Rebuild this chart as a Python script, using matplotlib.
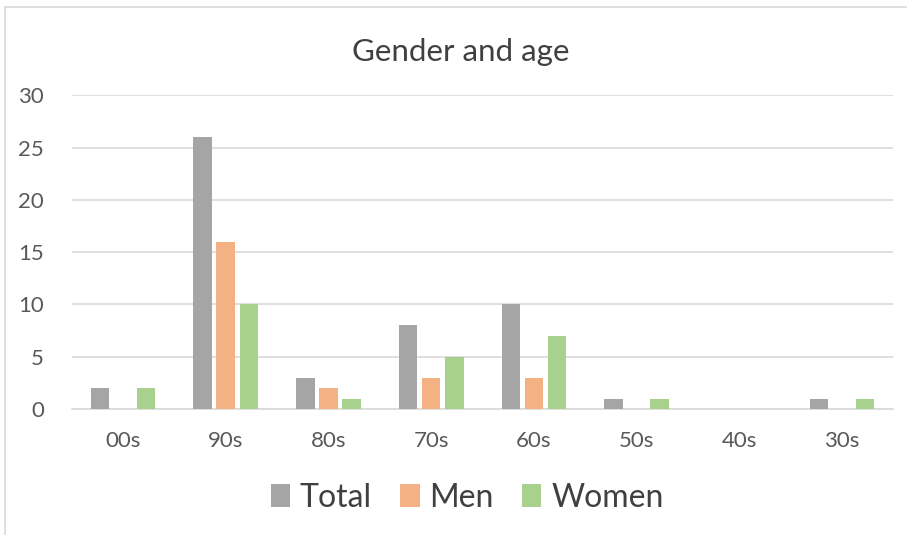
import matplotlib.pyplot as plt
import numpy as np
from matplotlib.lines import Line2D

categorias = ["00s", "90s", "80s", "70s", "60s", "50s", "40s", "30s"]
total = [2, 26, 3, 8, 10, 1, 0, 1]
hombres = [0, 16, 2, 3, 3, 0, 0, 0]
mujeres = [2, 10, 1, 5, 7, 1, 0, 1]

plt.rcParams['font.family'] = ['Lato', 'DejaVu Sans']

fig = plt.figure(figsize=(9.07, 5.35), dpi=100)
ax = fig.add_axes([0.079, 0.2355, 0.906, 0.5865])

x = np.arange(len(categorias))
ancho = 0.18
sep = 0.225
ax.bar(x - sep, total, ancho, color='#a5a5a5', label='Total', zorder=3)
ax.bar(x, hombres, ancho, color='#f4b183', label='Men', zorder=3)
ax.bar(x + sep, mujeres, ancho, color='#a9d18e', label='Women', zorder=3)

ax.set_xlim(-0.5, len(categorias) - 0.5)
ax.set_ylim(0, 30)
ax.set_yticks(range(0, 31, 5))
ax.set_xticks(x)
ax.set_xticklabels(categorias)
ax.yaxis.grid(True, color='#d9d9d9', linewidth=1.2, zorder=0)
for s in ['top', 'right', 'left']:
    ax.spines[s].set_visible(False)
ax.spines['bottom'].set_color('#d9d9d9')
ax.spines['bottom'].set_linewidth(1.2)
ax.tick_params(length=0, labelsize=16, colors='#595959', pad=16)
ax.tick_params(axis='y', pad=20)

ax.set_title('Gender and age', fontsize=22.5, color='#404040', pad=25, x=0.474)

leg = fig.legend(loc='center', bbox_to_anchor=(0.515, 0.07), ncol=3, frameon=False,
                 fontsize=23, handlelength=0.6, handleheight=0.7, handletextpad=0.3,
                 columnspacing=0.9)
for t in leg.get_texts():
    t.set_color('#404040')

# marco del gráfico
fig.add_artist(Line2D([0.006, 0.006], [0, 0.987], color='#d9d9d9', linewidth=1.2))
fig.add_artist(Line2D([0.006, 1.0], [0.987, 0.987], color='#d9d9d9', linewidth=1.2))

fig.savefig('out.png', dpi=100)
